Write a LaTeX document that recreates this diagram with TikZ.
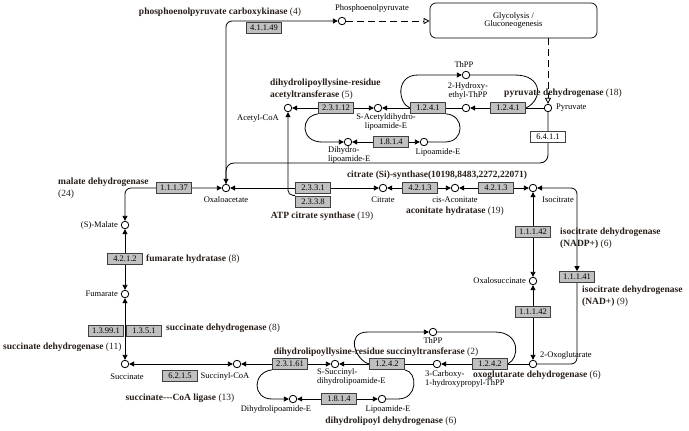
\documentclass[tikz,border=0pt]{standalone}
\usepackage{fontspec}
\setmainfont{Liberation Serif}
\usetikzlibrary{arrows.meta,backgrounds}
\definecolor{txtcol}{RGB}{40,30,25}
\definecolor{boxfill}{RGB}{192,192,192}

\begin{document}
\begin{tikzpicture}[x=1pt,y=-1pt,>={Triangle[length=5pt,width=5pt]}]
        \tikzstyle{cpd}=[circle,draw,fill=white,line width=0.8pt,minimum size=7.5pt,inner sep=0pt]
        \tikzstyle{enz}=[draw=black!75,fill=boxfill,line width=0.7pt,minimum width=35pt,minimum height=11pt,inner sep=0pt,font=\fontsize{8.5}{8}\selectfont]
        \tikzstyle{lbl}=[inner sep=0pt,align=center,font=\fontsize{8.5}{7.5}\selectfont]
        \tikzstyle{enzname}=[inner sep=0pt,align=left,text=txtcol,font=\fontsize{9.5}{12}\selectfont\bfseries]
        \tikzstyle{edge}=[draw,line width=0.8pt,->]
        \tikzstyle{both}=[draw,line width=0.8pt,<->]
        \tikzstyle{link}=[draw,line width=0.8pt]
        \tikzstyle{dlink}=[draw,line width=0.8pt,dash pattern=on 7pt off 4pt,-{Triangle[open,length=6pt,width=6pt]}]
        \useasboundingbox (0,0) rectangle (689,431);
        \begin{scope}
            \node [cpd] (pep) at (342,21) {};
            \node [cpd] (pyr) at (548,108) {};
            \node [cpd] (thp1) at (466,75) {};
            \node [cpd] (hth) at (466,108) {};
            \node [cpd] (sad) at (378,108) {};
            \node [cpd] (acoa) at (288,108) {};
            \node [cpd] (dle1) at (348,142) {};
            \node [cpd] (lip1) at (424,142) {};
            \node [cpd] (oaa) at (226,188) {};
            \node [cpd] (cit) at (383,188) {};
            \node [cpd] (cis) at (455,188) {};
            \node [cpd] (icit) at (533,188) {};
            \node [cpd] (osuc) at (533,281) {};
            \node [cpd] (akg) at (533,364) {};
            \node [cpd] (cht) at (437,364) {};
            \node [cpd] (thp2) at (433,332) {};
            \node [cpd] (ssd) at (335,364) {};
            \node [cpd] (lip2) at (382,399) {};
            \node [cpd] (dle2) at (293,399) {};
            \node [cpd] (scoa) at (237,364) {};
            \node [cpd] (suc) at (125,364) {};
            \node [cpd] (fum) at (125,294) {};
            \node [cpd] (mal) at (125,225) {};
            \coordinate (c1) at (548,163);

            \node [lbl] (l1) at (372,8) {Phosphoenolpyruvate};
            \node [lbl,anchor=west] (l2) at (556,108) {Pyruvate};
            \node [lbl] (l3) at (468,91) {2-Hydroxy-\\ethyl-ThPP};
            \node [lbl] (l4) at (464,65) {ThPP};
            \node [lbl] (l5) at (386,122) {S-Acetyldihydro-\\lipoamide-E};
            \node [lbl] (l6) at (258,118) {Acetyl-CoA};
            \node [lbl,align=left,anchor=west] (l7) at (328,155) {Dihydro-\\lipoamide-E};
            \node [lbl] (l8) at (438,152) {Lipoamide-E};
            \node [lbl] (l9) at (226,200) {Oxaloacetate};
            \node [lbl] (l10) at (383,200) {Citrate};
            \node [lbl] (l11) at (455,200) {cis-Aconitate};
            \node [lbl,anchor=west] (l12) at (542,200) {Isocitrate};
            \node [lbl,anchor=east] (l13) at (526,281) {Oxalosuccinate};
            \node [lbl,anchor=west] (l14) at (540,355) {2-Oxoglutarate};
            \node [lbl,align=left,anchor=west] (l15) at (425,379) {3-Carboxy-\\1-hydroxypropyl-ThPP};
            \node [lbl] (l16) at (433,341) {ThPP};
            \node [lbl,align=left,anchor=west] (l17) at (317,377) {S-Succinyl-\\dihydrolipoamide-E};
            \node [lbl] (l18) at (388,409) {Lipoamide-E};
            \node [lbl] (l19) at (276,409) {Dihydrolipoamide-E};
            \node [lbl] (l20) at (225,376) {Succinyl-CoA};
            \node [lbl] (l21) at (127,377) {Succinate};
            \node [lbl,anchor=east] (l22) at (118,294) {Fumarate};
            \node [lbl,anchor=east] (l23) at (118,225) {(S)-Malate};

            \node [enz] (e4114) at (264,28) {4.1.1.49};
            \node [enz,fill=white] (e6411) at (548,137) {6.4.1.1};
            \node [enz] (e1241a) at (428,108) {1.2.4.1};
            \node [enz] (e1241b) at (508,108) {1.2.4.1};
            \node [enz] (e23112) at (336,108) {2.3.1.12};
            \node [enz] (e1814a) at (391,142) {1.8.1.4};
            \node [enz] (e2331) at (313,188) {2.3.3.1};
            \node [enz] (e2338) at (313,202) {2.3.3.8};
            \node [enz] (e4213a) at (420,188) {4.2.1.3};
            \node [enz] (e4213b) at (496,188) {4.2.1.3};
            \node [enz] (e11142a) at (533,232) {1.1.1.42};
            \node [enz] (e11142b) at (533,312) {1.1.1.42};
            \node [enz] (e11141) at (577,277) {1.1.1.41};
            \node [enz] (e1242a) at (387,364) {1.2.4.2};
            \node [enz] (e1242b) at (490,364) {1.2.4.2};
            \node [enz] (e23161) at (290,364) {2.3.1.61};
            \node [enz] (e1814b) at (339,399) {1.8.1.4};
            \node [enz] (e6215) at (180,376) {6.2.1.5};
            \node [enz] (e13991) at (106,331) {1.3.99.1};
            \node [enz] (e1351) at (144,331) {1.3.5.1};
            \node [enz] (e4212) at (125,259) {4.2.1.2};
            \node [enz] (e11137) at (174,188) {1.1.1.37};
            \node [draw,rounded corners=6pt,line width=0.7pt,minimum width=167pt,minimum height=35pt,align=center,font=\fontsize{8.5}{8.5}\selectfont] (glyc) at (513.5,20.5) {Glycolysis /\\Gluconeogenesis};

            \node [enzname] (n1) at (220,12) {phosphoenolpyruvate carboxykinase {\mdseries (4)}};
            \node [enzname,anchor=west] (n2) at (270,89) {dihydrolipoyllysine-residue\\acetyltransferase {\mdseries (5)}};
            \node [enzname] (n3) at (563,93) {pyruvate dehydrogenase {\mdseries (18)}};
            \node [enzname] (n4) at (437,175) {citrate (Si)-synthase(10198,8483,2272,22071)};
            \node [enzname] (n5) at (455,211) {aconitate hydratase {\mdseries (19)}};
            \node [enzname] (n6) at (322,216) {ATP citrate synthase {\mdseries (19)}};
            \node [enzname,anchor=west] (n7) at (58,188) {malate dehydrogenase\\{\mdseries (24)}};
            \node [enzname,anchor=west] (n8) at (146,259) {fumarate hydratase {\mdseries (8)}};
            \node [enzname,anchor=west] (n9) at (166,328) {succinate dehydrogenase {\mdseries (8)}};
            \node [enzname,anchor=west] (n10) at (3,347) {succinate dehydrogenase {\mdseries (11)}};
            \node [enzname] (n11) at (180,398) {succinate{-}{-}{-}CoA ligase {\mdseries (13)}};
            \node [enzname] (n12) at (376,352) {dihydrolipoyllysine-residue succinyltransferase {\mdseries (2)}};
            \node [enzname,anchor=west] (n13) at (473,375) {oxoglutarate dehydrogenase {\mdseries (6)}};
            \node [enzname] (n14) at (391,421) {dihydrolipoyl dehydrogenase {\mdseries (6)}};
            \node [enzname,anchor=west] (n15) at (560,238) {isocitrate dehydrogenase\\(NADP+) {\mdseries (6)}};
            \node [enzname,anchor=west] (n16) at (582,296) {isocitrate dehydrogenase\\(NAD+) {\mdseries (9)}};
        \end{scope}
        \begin{scope}[on background layer]
            \path[edge,rounded corners=6pt] (oaa) |- (pep);
            \path[dlink] (pep) -- (pep -| glyc.west);
            \path[dlink] (pyr |- glyc.south) -- (pyr);
            \path[edge] (pyr) -- (hth);
            \path[edge] (hth) -- (sad);
            \path[both] (acoa) -- (sad);
            \path[edge] (e1241a.west) .. controls (398,104) and (395,75) .. (418,75) -- (thp1);
            \path[link] (thp1) -- (515,75) .. controls (543,75) and (543,100) .. (e1241b.east);
            \path[link] (e1241a.south east) .. controls (465,115) and (465,142) .. (445,142) -- (lip1);
            \path[edge] (e23112.south west) .. controls (300,116) and (300,142) .. (322,142) -- (dle1);
            \path[both] (dle1) -- (lip1);
            \path[edge,rounded corners=8pt] (pyr) -- (c1) -| (oaa);
            \path[both] (oaa) -- (cit);
            \path[edge,rounded corners=5pt] ([yshift=-1.5pt]e2331.south west) -| (acoa);
            \path[both] (cit) -- (cis);
            \path[both] (cis) -- (icit);
            \path[both,rounded corners=6pt] (akg) -| (e11141) |- (icit);
            \path[both] (icit) -- (osuc);
            \path[both] (osuc) -- (akg);
            \path[edge] (akg) -- (cht);
            \path[edge] (cht) -- (ssd);
            \path[both] (scoa) -- (ssd);
            \path[both] (suc) -- (scoa);
            \path[edge] (e1242a.west) .. controls (355,360) and (345,332) .. (368,332) -- (thp2);
            \path[link] (thp2) -- (495,332) .. controls (520,332) and (520,358) .. (e1242b.east);
            \path[link] (e1242a.south east) .. controls (418,372) and (418,399) .. (398,399) -- (lip2);
            \path[edge] (e23161.south west) .. controls (252,372) and (252,399) .. (272,399) -- (dle2);
            \path[both] (dle2) -- (lip2);
            \path[both,rounded corners=6pt] (oaa) -| (mal);
            \path[both] (mal) -- (fum);
            \path[both] (fum) -- (suc);
        \end{scope}
\end{tikzpicture}
\end{document}
